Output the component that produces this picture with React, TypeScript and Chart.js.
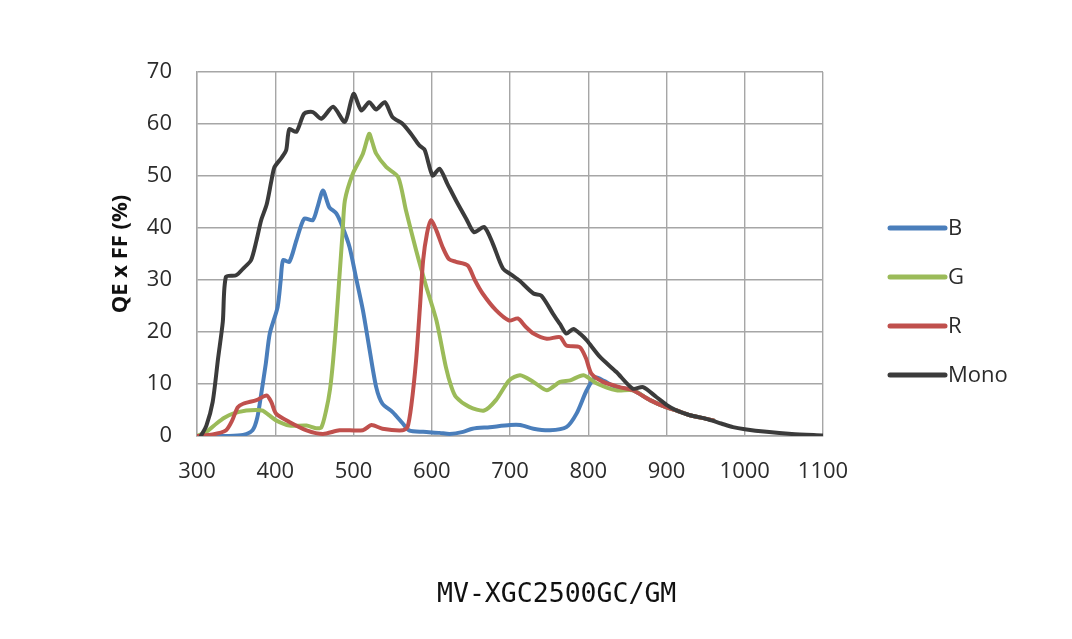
import React, { useEffect, useRef } from "react";
import { Chart, registerables } from "chart.js";

Chart.register(...registerables);

// ---- data ----
const seriesNames = ["B", "G", "R", "Mono"];
const seriesColors = ["#4a7ebb", "#9bbb59", "#c0504d", "#3b3b3b"];
const chartCaption = "MV-XGC2500GC/GM";
const yAxisTitle = "QE x FF (%)";

const bWavelength = [300, 340, 359, 371, 377, 382, 388, 393, 403, 407, 410, 418, 427, 437, 448, 454, 461, 469, 478, 486, 495, 503, 512, 520, 529, 537, 550, 563, 571, 589, 610, 623, 640, 652, 674, 700, 713, 730, 751, 772, 785, 798, 809, 820, 836, 857, 879, 900, 913, 930, 951, 960];
const bValue = [0, 0, 0.2, 1.1, 3.5, 8, 14, 19.7, 24.8, 30, 33.8, 33.5, 37.6, 41.8, 41.5, 44, 47.2, 44, 42.8, 40.2, 36.3, 30.6, 24.2, 17.1, 9.4, 6.2, 4.6, 2.4, 1.1, 0.8, 0.6, 0.4, 0.8, 1.4, 1.7, 2.1, 2.1, 1.4, 1.1, 1.7, 4.3, 8.8, 11.3, 10.6, 9.4, 8.8, 6.9, 5.5, 4.9, 4, 3.3, 3];

const gWavelength = [300, 312, 325, 335, 346, 363, 375, 384, 392, 401, 418, 440, 452, 459, 465, 470, 474, 478, 482, 486, 489, 499, 512, 520, 524, 529, 542, 557, 567, 580, 593, 606, 618, 625, 631, 648, 667, 682, 699, 713, 730, 747, 764, 777, 794, 811, 836, 857, 879, 900, 913, 930, 951, 960];
const gValue = [0, 0.8, 2.4, 3.5, 4.3, 4.9, 5, 4.9, 4, 3, 2, 2, 1.5, 1.7, 4.9, 9, 14.6, 22, 30.6, 39, 45.3, 50.4, 54.3, 58.1, 56.5, 54.3, 51.7, 49.8, 43.4, 35.7, 28.7, 22.2, 13.3, 9.5, 7.5, 5.6, 4.9, 6.9, 10.7, 11.7, 10.4, 8.8, 10.4, 10.7, 11.7, 10.1, 8.8, 8.8, 6.9, 5.5, 4.9, 4, 3.3, 3];

const rWavelength = [300, 320, 337, 345, 352, 359, 376, 389, 395, 401, 418, 440, 461, 482, 512, 523, 537, 563, 569, 574, 580, 585, 589, 594, 599, 606, 614, 622, 631, 646, 655, 665, 682, 699, 710, 720, 730, 747, 764, 772, 789, 797, 804, 819, 840, 857, 879, 900, 913, 930, 951, 960];
const rValue = [0, 0.3, 1.1, 3, 5.5, 6.2, 6.9, 7.8, 6.5, 4.3, 2.7, 1.1, 0.4, 1.1, 1.1, 2.1, 1.4, 1.1, 1.7, 6, 14.6, 25, 33.8, 39, 41.5, 39.5, 36.3, 34, 33.5, 32.8, 30, 27.4, 24.2, 22.2, 22.6, 21, 19.7, 18.7, 19, 17.4, 17.1, 15, 12, 10.4, 9.4, 8.8, 6.9, 5.5, 4.9, 4, 3.3, 3];

const monoWavelength = [305, 312, 320, 327, 333, 337, 350, 359, 369, 376, 382, 389, 395, 399, 408, 414, 418, 427, 437, 448, 459, 474, 489, 500, 510, 520, 529, 540, 550, 563, 574, 584, 591, 601, 610, 620, 631, 644, 654, 667, 678, 691, 703, 712, 730, 740, 755, 764, 772, 781, 790, 798, 815, 836, 857, 870, 887, 900, 913, 930, 951, 970, 985, 1000, 1028, 1060, 1099];
const monoValue = [0, 2, 6.5, 15, 22, 30.6, 30.9, 32.2, 33.8, 37.6, 41.5, 44.5, 49, 51.7, 53.5, 55, 59, 58.5, 62, 62.3, 61, 63.3, 60.4, 65.8, 62.6, 64.2, 62.8, 64.2, 61.3, 60, 58, 55.9, 55, 50.1, 51.4, 48.5, 45.3, 41.8, 39.2, 40.2, 37, 32.2, 30.9, 29.9, 27.4, 27, 23.5, 21.5, 19.7, 20.6, 19.6, 18.4, 15.2, 12.3, 9.1, 9.4, 7.5, 6, 4.9, 4, 3.3, 2.4, 1.7, 1.3, 0.8, 0.4, 0.1];

const xMin = 300;
const xMax = 1100;
const xStep = 100;
const yMin = 0;
const yMax = 70;
const yStep = 10;

const wavelengths = [bWavelength, gWavelength, rWavelength, monoWavelength];
const values = [bValue, gValue, rValue, monoValue];

const TICK_FONT = "'Open Sans', 'Liberation Sans', sans-serif";

const sideLegend = {
  id: "sideLegend",
  afterDraw(chart: any) {
    const { ctx, chartArea } = chart;
    ctx.save();
    chart.data.datasets.forEach((ds: any, i: number) => {
      const y = chartArea.top + 156 + i * 49;
      const x0 = chartArea.right + 67;
      ctx.strokeStyle = ds.borderColor;
      ctx.lineWidth = 5;
      ctx.lineCap = "round";
      ctx.beginPath();
      ctx.moveTo(x0, y);
      ctx.lineTo(x0 + 55, y);
      ctx.stroke();
      ctx.fillStyle = "#2b2b2b";
      ctx.font = `22px ${TICK_FONT}`;
      ctx.textBaseline = "middle";
      ctx.textAlign = "left";
      ctx.fillText(ds.label, x0 + 58, y + 1);
    });
    ctx.restore();
  },
};

export default function App() {
  const canvasRef = useRef<HTMLCanvasElement | null>(null);

  useEffect(() => {
    if (!canvasRef.current) return;
    const datasets = seriesNames.map((name, i) => ({
      label: name,
      data: wavelengths[i].map((w, j) => ({ x: w, y: values[i][j] })),
      borderColor: seriesColors[i],
      backgroundColor: seriesColors[i],
      borderWidth: 4,
      pointRadius: 0,
      tension: 0.25,
      fill: false,
      order: seriesNames.length - i,
      borderJoinStyle: "round" as const,
      borderCapStyle: "round" as const,
    }));
    const chart = new Chart(canvasRef.current, {
      type: "line",
      data: { datasets },
      plugins: [sideLegend],
      options: {
        animation: false,
        responsive: false,
        layout: { padding: { left: 104, top: 72, right: 249, bottom: 143 } },
        plugins: {
          legend: { display: false },
          tooltip: { enabled: false },
          title: { display: false },
        },
        scales: {
          x: {
            type: "linear",
            min: xMin,
            max: xMax,
            afterFit: (scale: any) => {
              scale.height = 60;
            },
            ticks: {
              stepSize: xStep,
              padding: 23,
              color: "#2b2b2b",
              font: { family: TICK_FONT, size: 22 },
              callback: (v: any) => String(v),
            },
            grid: { color: "#a6a6a6", lineWidth: 1.4, drawTicks: false },
            border: { color: "#a6a6a6", width: 1.4 },
          },
          y: {
            min: yMin,
            max: yMax,
            afterFit: (scale: any) => {
              scale.width = 93;
            },
            ticks: {
              stepSize: yStep,
              padding: 25,
              color: "#2b2b2b",
              font: { family: TICK_FONT, size: 22 },
              callback: (v: any) => String(v),
            },
            grid: { color: "#a6a6a6", lineWidth: 1.4, drawTicks: false },
            border: { color: "#a6a6a6", width: 1.4 },
            title: {
              display: true,
              text: yAxisTitle,
              color: "#111111",
              font: { family: TICK_FONT, size: 22, weight: "bold" },
              padding: { top: 4, bottom: 4 },
            },
          },
        },
      },
    });
    return () => chart.destroy();
  }, []);

  return (
    <div style={{ position: "fixed", left: 0, top: 0, width: 1072, height: 639, background: "#ffffff" }}>
      <canvas ref={canvasRef} width={1072} height={639} style={{ width: 1072, height: 639 }} />
      <div
        style={{
          position: "absolute",
          left: 437,
          top: 578,
          fontFamily: "'DejaVu Sans Mono', monospace",
          fontSize: "26.5px",
          lineHeight: "30px",
          color: "#111111",
          whiteSpace: "nowrap",
        }}
      >
        {chartCaption}
      </div>
    </div>
  );
}
